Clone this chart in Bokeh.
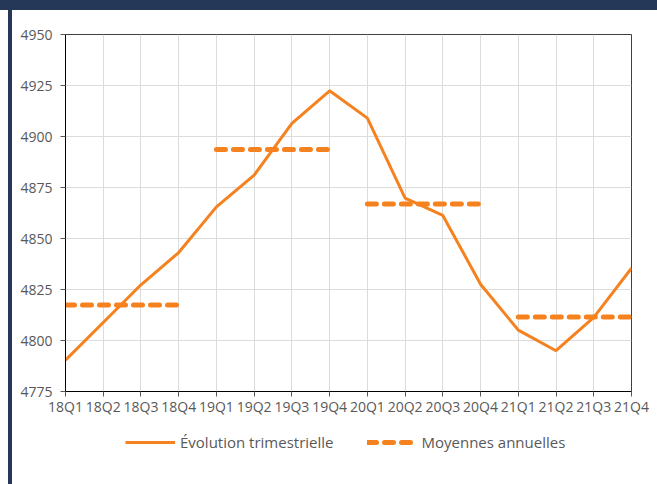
from bokeh.plotting import figure
from bokeh.models import Range1d, FixedTicker, Legend, LegendItem, ColumnDataSource, InlineStyleSheet
from bokeh.layouts import column
from bokeh.embed import file_html
from bokeh.resources import INLINE

quarters = ["18Q1", "18Q2", "18Q3", "18Q4", "19Q1", "19Q2", "19Q3", "19Q4",
            "20Q1", "20Q2", "20Q3", "20Q4", "21Q1", "21Q2", "21Q3", "21Q4"]
quarterly = [4790.4, 4808.8, 4827.3, 4843.1, 4865.5, 4881.1, 4906.4, 4922.4,
             4909.0, 4869.8, 4861.3, 4827.6, 4805.1, 4795.0, 4811.3, 4835.5]
years = ["2018", "2019", "2020", "2021"]
annual_means = [4817.4, 4893.6, 4866.9, 4811.5]
y_ticks = [4775, 4800, 4825, 4850, 4875, 4900, 4925, 4950]
legend_labels = ["Évolution trimestrielle", "Moyennes annuelles"]

ORANGE = "#F5821F"
NAVY = "#253858"
GRAY = "#595959"
FONT = "Open Sans"

xs = list(range(len(quarters)))

css = InlineStyleSheet(css=f"""
:host::before {{ content: ''; position: fixed; top: 0px; left: 0px; width: 657px; height: 10px;
                 background-color: {NAVY}; z-index: 10; }}
:host::after {{ content: ''; position: fixed; top: 0px; left: 8px; width: 4px; height: 484px;
                background-color: {NAVY}; z-index: 10; }}
""")

p = figure(width=657, height=420, output_backend="svg", toolbar_location=None,
           x_range=Range1d(0, len(quarters) - 1), y_range=Range1d(y_ticks[0], y_ticks[-1]),
           min_border_left=65, min_border_right=26, min_border_top=34, min_border_bottom=29,
           stylesheets=[css])
p.background_fill_color = "white"
p.border_fill_color = "white"
p.outline_line_color = "#404040"
p.outline_line_width = 1

line_style = dict(line_color=ORANGE, line_width=3)
dash_style = dict(line_color=ORANGE, line_width=5, line_dash="9 8", line_cap="round")

line_src = ColumnDataSource(dict(x=xs, y=quarterly))
seg_src = ColumnDataSource(dict(
    x0=[quarters.index(y[2:] + "Q1") for y in years],
    x1=[quarters.index(y[2:] + "Q4") for y in years],
    y=annual_means))

p.line(x="x", y="y", source=line_src, **line_style)
p.segment(x0="x0", y0="y", x1="x1", y1="y", source=seg_src, **dash_style)

# axes
p.xaxis.ticker = FixedTicker(ticks=xs)
p.xaxis.major_label_overrides = {i: q for i, q in enumerate(quarters)}
p.yaxis.ticker = FixedTicker(ticks=y_ticks)
for ax in (p.xaxis[0], p.yaxis[0]):
    ax.axis_line_color = "black"
    ax.axis_line_width = 1
    ax.major_tick_line_color = GRAY
    ax.major_tick_in = 0
    ax.major_tick_out = 5
    ax.minor_tick_line_color = None
    ax.major_label_text_color = GRAY
    ax.major_label_text_font = FONT
    ax.major_label_text_font_size = "14px"
p.yaxis.major_label_standoff = 8
p.xaxis.major_label_standoff = 0

p.xgrid.ticker = FixedTicker(ticks=xs)
p.ygrid.ticker = FixedTicker(ticks=y_ticks)
p.xgrid.grid_line_color = "#dcdcdc"
p.ygrid.grid_line_color = "#dcdcdc"

# legend strip below the chart (same data, drawn out of its visible range)
lg = figure(width=657, height=64, output_backend="svg", toolbar_location=None,
            x_range=Range1d(0, 1), y_range=Range1d(0, 1),
            min_border_left=0, min_border_right=0, min_border_top=0, min_border_bottom=0)
lg.axis.visible = False
lg.grid.visible = False
lg.outline_line_color = None
lg.background_fill_color = "white"
lg.border_fill_color = "white"
r1 = lg.line(x="x", y="y", source=line_src, **line_style)
r2 = lg.segment(x0="x0", y0="y", x1="x1", y1="y", source=seg_src, **dash_style)

legend = Legend(items=[LegendItem(label=legend_labels[0], renderers=[r1]),
                       LegendItem(label=legend_labels[1], renderers=[r2])],
                orientation="horizontal", location=(60, 32),
                label_text_font=FONT, label_text_font_size="15px", label_text_color=GRAY,
                glyph_width=50, glyph_height=20, spacing=33, border_line_color=None,
                background_fill_alpha=0, margin=0, padding=0, label_standoff=5)
lg.add_layout(legend)

layout = column(p, lg, spacing=0)

open("out.html", "w").write(file_html(layout, INLINE))
